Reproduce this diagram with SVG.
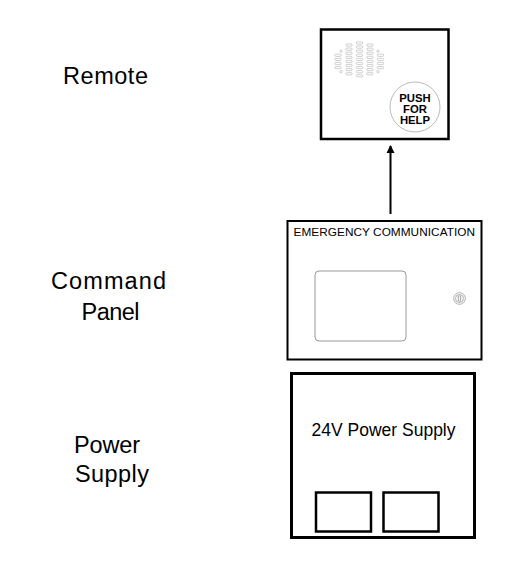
<svg xmlns="http://www.w3.org/2000/svg" xmlns:xlink="http://www.w3.org/1999/xlink" width="527" height="571" viewBox="0 0 527 571">
<style>
.lbl{font-family:"Liberation Sans",Arial,sans-serif;font-size:23.5px;fill:#000;}
.box{fill:#fff;stroke:#000;}
.gray{fill:none;stroke:#b0b0b0;stroke-width:0.6;}
.btn{font-family:"Liberation Sans",Arial,sans-serif;font-size:11.3px;font-weight:bold;fill:#000;text-anchor:middle;}
.sm{font-family:"Liberation Sans",Arial,sans-serif;fill:#000;}
</style>
<defs>
<rect id="cap" x="-3.2" y="-1.1" width="6.4" height="2.2" rx="1.1" class="gray"/>
<circle id="dot" r="1.2" class="gray"/>
<marker id="ah" viewBox="0 0 8 10" refX="7" refY="5" markerWidth="8" markerHeight="10" markerUnits="userSpaceOnUse" orient="auto">
<path d="M0,1 L8,5 L0,9 Z" fill="#000"/>
</marker>
</defs>
<rect width="527" height="571" fill="#fff"/>

<g id="labels">
<text class="lbl" x="63" y="84" textLength="85" lengthAdjust="spacing">Remote</text>
<text class="lbl" x="51" y="289" textLength="115" lengthAdjust="spacing">Command</text>
<text class="lbl" x="81.5" y="320" textLength="58" lengthAdjust="spacing">Panel</text>
<text class="lbl" x="74" y="453" textLength="66" lengthAdjust="spacing">Power</text>
<text class="lbl" x="75" y="482" textLength="74" lengthAdjust="spacing">Supply</text>
</g>

<g id="remote">
<rect class="box" x="321" y="29.5" width="127.5" height="109.5" stroke-width="2.5"/>
<g id="grille">
<use xlink:href="#cap" x="359.5" y="43"/>
<use xlink:href="#cap" x="359.5" y="47.1"/>
<use xlink:href="#cap" x="359.5" y="51.2"/>
<use xlink:href="#cap" x="359.5" y="55.3"/>
<use xlink:href="#cap" x="359.5" y="59.4"/>
<use xlink:href="#cap" x="359.5" y="63.5"/>
<use xlink:href="#cap" x="359.5" y="67.6"/>
<use xlink:href="#cap" x="359.5" y="71.7"/>
<use xlink:href="#cap" x="359.5" y="75.8"/>
<use xlink:href="#cap" x="349" y="45.05"/>
<use xlink:href="#cap" x="349" y="49.15"/>
<use xlink:href="#cap" x="349" y="53.25"/>
<use xlink:href="#cap" x="349" y="57.35"/>
<use xlink:href="#cap" x="349" y="61.45"/>
<use xlink:href="#cap" x="349" y="65.55"/>
<use xlink:href="#cap" x="349" y="69.65"/>
<use xlink:href="#cap" x="349" y="73.75"/>
<use xlink:href="#cap" x="370" y="45.05"/>
<use xlink:href="#cap" x="370" y="49.15"/>
<use xlink:href="#cap" x="370" y="53.25"/>
<use xlink:href="#cap" x="370" y="57.35"/>
<use xlink:href="#cap" x="370" y="61.45"/>
<use xlink:href="#cap" x="370" y="65.55"/>
<use xlink:href="#cap" x="370" y="69.65"/>
<use xlink:href="#cap" x="370" y="73.75"/>
<use xlink:href="#cap" x="338" y="55.3"/>
<use xlink:href="#cap" x="338" y="59.4"/>
<use xlink:href="#cap" x="338" y="63.5"/>
<use xlink:href="#cap" x="338" y="67.6"/>
<use xlink:href="#cap" x="380.5" y="55.3"/>
<use xlink:href="#cap" x="380.5" y="59.4"/>
<use xlink:href="#cap" x="380.5" y="63.5"/>
<use xlink:href="#cap" x="380.5" y="67.6"/>
<use xlink:href="#dot" x="341" y="51.2"/>
<use xlink:href="#dot" x="341" y="71.7"/>
<use xlink:href="#dot" x="378" y="51.2"/>
<use xlink:href="#dot" x="378" y="71.7"/>
</g>
<circle cx="415" cy="107" r="25" fill="#fff" stroke="#aaa" stroke-width="0.8"/>
<text class="btn" x="415" y="101.5">PUSH</text>
<text class="btn" x="415" y="113">FOR</text>
<text class="btn" x="415" y="124">HELP</text>
</g>

<g id="connectors">
<line x1="390.5" y1="214" x2="390.5" y2="146" stroke="#000" stroke-width="2" marker-end="url(#ah)"/>
</g>

<g id="panel">
<rect class="box" x="287.5" y="221" width="194" height="138.5" stroke-width="2"/>
<text class="sm" x="293.5" y="235.5" font-size="11.8" textLength="181.5" lengthAdjust="spacing">EMERGENCY COMMUNICATION</text>
<rect x="315" y="271" width="91" height="70" rx="4" fill="none" stroke="#999" stroke-width="1"/>
<circle cx="459.5" cy="298.5" r="5.8" fill="none" stroke="#999" stroke-width="0.8"/>
<circle cx="459.5" cy="298.5" r="4" fill="none" stroke="#999" stroke-width="0.8"/>
<rect x="458.3" y="295.8" width="2.4" height="5.4" rx="1" fill="none" stroke="#777" stroke-width="0.7"/>
</g>

<g id="power">
<rect class="box" x="291.5" y="373.5" width="183" height="164" stroke-width="3"/>
<text class="sm" x="311.5" y="436" font-size="17.5" textLength="144" lengthAdjust="spacing">24V Power Supply</text>
<rect x="316" y="492.5" width="55" height="39" fill="none" stroke="#000" stroke-width="2.5"/>
<rect x="383.5" y="492.5" width="55" height="39" fill="none" stroke="#000" stroke-width="2.5"/>
</g>
</svg>
